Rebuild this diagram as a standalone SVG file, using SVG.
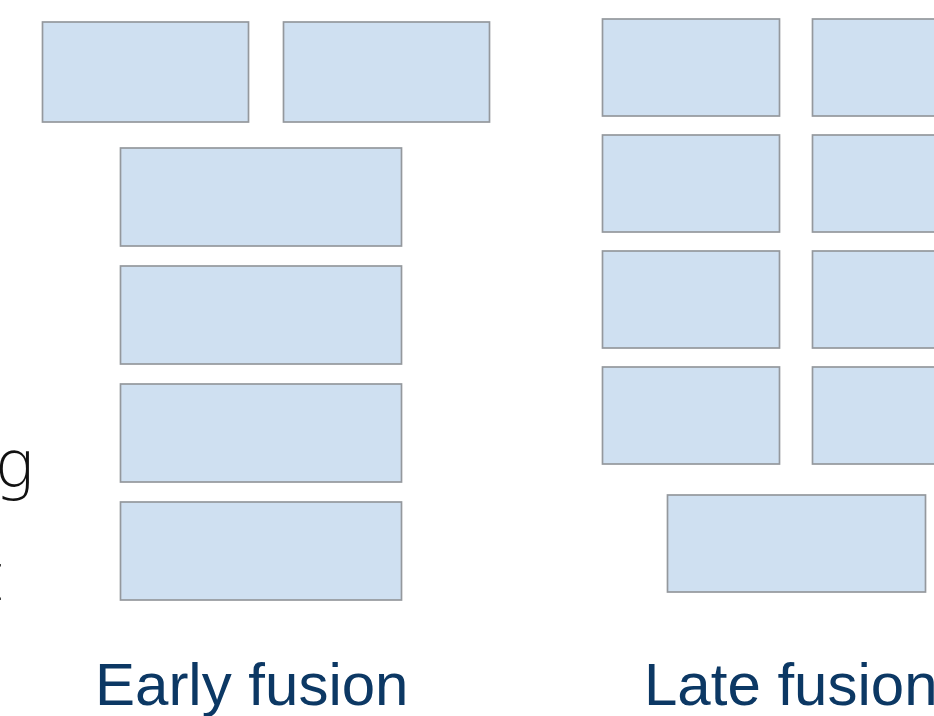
<svg xmlns="http://www.w3.org/2000/svg" width="934" height="716" viewBox="0 0 934 716">
  <style>
    .blk { fill: #cfe0f1; stroke: #94989d; stroke-width: 1.7; }
    .cap { font-family: "Liberation Sans", Arial, sans-serif; font-size: 60px; fill: #0c3864; }
    .side { font-family: "DejaVu Sans", "Liberation Sans", sans-serif; font-weight: 200; font-size: 66px; fill: #111; }
  </style>
  <rect width="934" height="716" fill="#ffffff"/>

  <!-- clipped slide text on the left edge -->
  <text class="side" x="34" y="487" text-anchor="end">g</text>
  <text class="side" x="4" y="600" text-anchor="end">t</text>

  <!-- early fusion -->
  <g id="early-in-a"><rect class="blk" x="42.5" y="22" width="206" height="100"/></g>
  <g id="early-in-b"><rect class="blk" x="283.5" y="22" width="206" height="100"/></g>
  <g id="early-l1"><rect class="blk" x="120.5" y="148" width="281" height="98"/></g>
  <g id="early-l2"><rect class="blk" x="120.5" y="266" width="281" height="98"/></g>
  <g id="early-l3"><rect class="blk" x="120.5" y="384" width="281" height="98"/></g>
  <g id="early-l4"><rect class="blk" x="120.5" y="502" width="281" height="98"/></g>
  <text class="cap" x="95" y="705">Early fusion</text>

  <!-- late fusion -->
  <g id="late-a1"><rect class="blk" x="602.5" y="19" width="177" height="97"/></g>
  <g id="late-a2"><rect class="blk" x="602.5" y="135" width="177" height="97"/></g>
  <g id="late-a3"><rect class="blk" x="602.5" y="251" width="177" height="97"/></g>
  <g id="late-a4"><rect class="blk" x="602.5" y="367" width="177" height="97"/></g>
  <g id="late-b1"><rect class="blk" x="812.5" y="19" width="177" height="97"/></g>
  <g id="late-b2"><rect class="blk" x="812.5" y="135" width="177" height="97"/></g>
  <g id="late-b3"><rect class="blk" x="812.5" y="251" width="177" height="97"/></g>
  <g id="late-b4"><rect class="blk" x="812.5" y="367" width="177" height="97"/></g>
  <g id="late-out"><rect class="blk" x="667.5" y="495" width="258" height="97"/></g>
  <text class="cap" x="644" y="705">Late fusion</text>

  <g id="connectors"></g>
</svg>
